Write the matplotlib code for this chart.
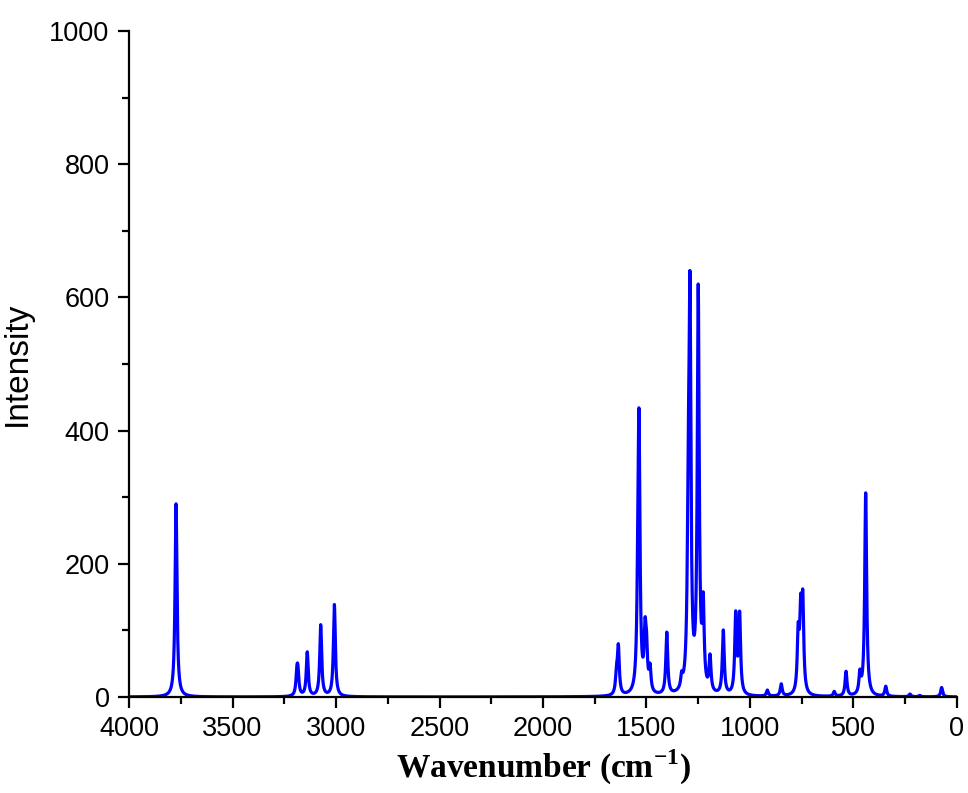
import numpy as np
import matplotlib
matplotlib.use("Agg")
import matplotlib.pyplot as plt
from matplotlib.ticker import MultipleLocator

# computed vibrational lines: position (cm-1) and peak height
freqs = [3773, 3189, 3184, 3139, 3074, 3008,
         1645, 1636, 1541, 1536, 1507, 1500, 1483, 1402, 1330,
         1298, 1290, 1250, 1226, 1193, 1129, 1069, 1050,
         916, 849, 767, 755, 745, 593, 536, 469, 441, 344, 227, 180, 74]
heights = [290, 30, 30, 66, 107, 138,
           28, 70, 120, 360, 80, 55, 35, 93, 18,
           220, 555, 600, 120, 52, 96, 118, 118,
           9, 18, 85, 110, 130, 7, 37, 30, 305, 15, 4, 2, 14]
hwhm = 5.5  # lorentzian half width

wn = np.linspace(4000, 0, 8000)
spec = np.zeros_like(wn)
for f, h in zip(freqs, heights):
    spec += h / (1 + ((wn - f) / hwhm) ** 2)

plt.rcParams['mathtext.fontset'] = 'custom'
plt.rcParams['mathtext.rm'] = 'Liberation Serif'
plt.rcParams['mathtext.bf'] = 'Liberation Serif:bold'

fig = plt.figure(figsize=(9.68, 7.93), dpi=100)
ax = fig.add_axes([0.1333, 0.1211, 0.8553, 0.8398])
ax.plot(wn, spec, color='#0000FF', lw=2.3)

ax.set_xlim(4000, 0)
ax.set_ylim(0, 1000)
ax.xaxis.set_major_locator(MultipleLocator(500))
ax.xaxis.set_minor_locator(MultipleLocator(250))
ax.yaxis.set_major_locator(MultipleLocator(200))
ax.yaxis.set_minor_locator(MultipleLocator(100))

for s in ['top', 'right']:
    ax.spines[s].set_visible(False)
for s in ['left', 'bottom']:
    ax.spines[s].set_linewidth(1.6)

ax.tick_params(which='major', direction='out', length=8, width=1.6,
               labelsize=19.5, pad=6)
ax.tick_params(which='minor', direction='out', length=5, width=1.6)
for lab in ax.get_xticklabels() + ax.get_yticklabels():
    lab.set_fontfamily('Liberation Sans')

ax.set_xlabel(r'Wavenumber (cm$^{\mathbf{-1}}$)', fontsize=24,
              fontweight='bold', family='Liberation Serif', labelpad=4)
ax.set_ylabel('Intensity', fontsize=24, family='Liberation Sans',
              labelpad=12)

fig.savefig('out.png', dpi=100)
